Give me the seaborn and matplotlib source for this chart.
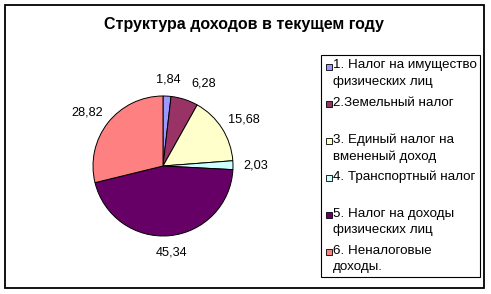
import numpy as np
import matplotlib
matplotlib.use("Agg")
import matplotlib.pyplot as plt
from matplotlib.patches import Rectangle
import seaborn as sns

categories = [
    "1. Налог на имущество\nфизических лиц",
    "2.Земельный налог",
    "3. Единый налог на\nвмененый доход",
    "4. Транспортный налог",
    "5. Налог на доходы\nфизических лиц",
    "6. Неналоговые\nдоходы.",
]
values = [1.84, 6.28, 15.68, 2.03, 45.34, 28.82]
colors = ["#9999FF", "#993366", "#FFFFCC", "#CCFFFF", "#660066", "#FF8080"]
title = "Структура доходов в текущем году"

sns.set_theme(style="white")
plt.rcParams["font.family"] = ["Liberation Sans", "DejaVu Sans"]

W, H = 491, 294
fig = plt.figure(figsize=(W / 100, H / 100), dpi=100)
fig.patch.set_facecolor("white")

def fx(px):
    return px / W

def fy(py):
    return 1 - py / H

# outer frame
fig.patches.append(Rectangle((fx(5), fy(288)), fx(484) - fx(5), fy(5) - fy(288),
                             transform=fig.transFigure, fill=False,
                             edgecolor="black", lw=1.3, zorder=0))

fig.text(fx(244), fy(25), title, ha="center", va="center",
         fontsize=11.5, fontweight="bold", color="black")

# pie axes: centre (163,166) px, radius 70 px
R = 70
cx, cy = 163, 166
ax = fig.add_axes([fx(cx - R), fy(cy + R), 2 * R / W, 2 * R / H])
labels = [f"{v:.2f}".replace(".", ",") for v in values]
wedges, texts = ax.pie(values, colors=colors, startangle=90, counterclock=False,
                       labels=labels, labeldistance=1.1,
                       wedgeprops=dict(edgecolor="black", linewidth=0.7),
                       textprops=dict(fontsize=9.2, color="black"))
ax.set_xlim(-1, 1)
ax.set_ylim(-1, 1)
ax.set_aspect("equal")
ax.axis("off")

fig.canvas.draw()
renderer = fig.canvas.get_renderer()
gap = 1.15
for w, t in zip(wedges, texts):
    th = np.deg2rad((w.theta1 + w.theta2) / 2)
    bb = t.get_window_extent(renderer)
    tw, thh = bb.width / R, bb.height / R
    x = gap * np.cos(th) + tw / 2 * np.cos(th)
    y = gap * np.sin(th) + thh / 2 * np.sin(th)
    t.set_position((x, y))
    t.set_ha("center")
    t.set_va("center")

# simple nudge to keep neighbouring labels apart (as the spreadsheet does)
fig.canvas.draw()
for prev, cur in zip(texts[:-1], texts[1:]):
    b1 = prev.get_window_extent(renderer)
    b2 = cur.get_window_extent(renderer)
    if b1.overlaps(b2) or (b2.x0 - b1.x1 < 10 and abs(b2.y0 - b1.y0) < b1.height):
        shift = (b1.x1 + 11 - b2.x0) / R
        x, y = cur.get_position()
        cur.set_position((x + shift, y))

# legend box
fig.patches.append(Rectangle((fx(321), fy(277)), fx(480) - fx(321), fy(55) - fy(277),
                             transform=fig.transFigure, fill=False,
                             edgecolor="black", lw=0.8, zorder=1))
for i, (lab, col) in enumerate(zip(categories, colors)):
    yc = 67 + 37 * i
    s = 5.5
    fig.patches.append(Rectangle((fx(329 - s / 2), fy(yc + s / 2)), s / W, s / H,
                                 transform=fig.transFigure, facecolor=col,
                                 edgecolor="black", lw=0.6, zorder=2))
    fig.text(fx(333), fy(yc - 7.5), lab, ha="left", va="top", fontsize=9.6,
             color="black", linespacing=1.45)

fig.savefig("out.png", dpi=100, facecolor="white")
